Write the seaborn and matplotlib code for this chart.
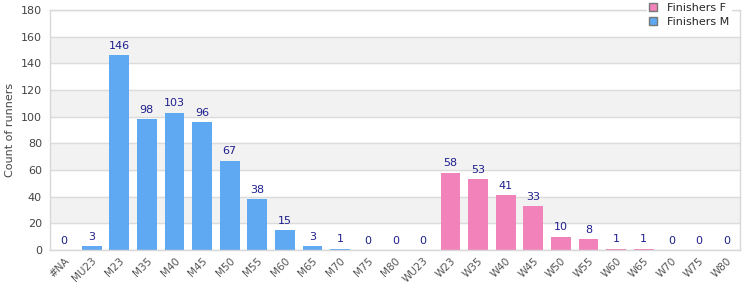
import numpy as np
import pandas as pd
import seaborn as sns
import matplotlib.pyplot as plt
from matplotlib.patches import Patch

# ---------------- DATA ----------------
categories = ["#NA", "MU23", "M23", "M35", "M40", "M45", "M50", "M55", "M60", "M65",
              "M70", "M75", "M80", "WU23", "W23", "W35", "W40", "W45", "W50", "W55",
              "W60", "W65", "W70", "W75", "W80"]
male_cats = categories[:13]
male_vals = [0, 3, 146, 98, 103, 96, 67, 38, 15, 3, 1, 0, 0]
female_cats = categories[13:]
female_vals = [0, 58, 53, 41, 33, 10, 8, 1, 1, 0, 0, 0]

COL_M = "#5fa8f2"
COL_F = "#f282ba"
LABEL_COL = "#1f1f8f"

df = pd.DataFrame({
    "cat": male_cats + female_cats,
    "count": male_vals + female_vals,
    "series": ["Finishers M"] * len(male_cats) + ["Finishers F"] * len(female_cats),
})

# ---------------- PLOT ----------------
sns.set_style("white")
plt.rcParams["font.family"] = ["DejaVu Sans"]

fig = plt.figure(figsize=(7.5, 3), dpi=100)
ax = fig.add_axes([0.067, 0.167, 0.92, 0.8])

# alternating background bands
for lo in range(20, 180, 40):
    ax.axhspan(lo, lo + 20, color="#f2f2f2", zorder=0)
ax.yaxis.grid(True, color="#dcdcdc", linewidth=1, zorder=1)
ax.set_axisbelow(True)

sns.barplot(data=df, x="cat", y="count", hue="series", order=categories,
            palette={"Finishers M": COL_M, "Finishers F": COL_F},
            dodge=False, width=0.72, saturation=1, linewidth=0,
            legend=False, ax=ax, zorder=2)

for cont in ax.containers:
    ax.bar_label(cont, padding=3, color=LABEL_COL, fontsize=8)

ax.set_ylim(0, 180)
ax.set_yticks(range(0, 181, 20))
ax.set_xlim(-0.5, len(categories) - 0.5)
ax.set_xlabel("")
ax.set_ylabel("Count of runners", fontsize=8, color="#444444")
ax.tick_params(axis="y", labelsize=8, colors="#444444", length=0, pad=6)
ax.tick_params(axis="x", labelsize=7.5, colors="#555555", length=0, pad=4)
plt.setp(ax.get_xticklabels(), rotation=45, ha="right", rotation_mode="anchor")

for s in ax.spines.values():
    s.set_color("#d8d8d8")
    s.set_linewidth(1)

handles = [Patch(facecolor=COL_F, edgecolor="#777777", label="Finishers F"),
           Patch(facecolor=COL_M, edgecolor="#777777", label="Finishers M")]
leg = ax.legend(handles=handles, loc="upper right", bbox_to_anchor=(0.995, 1.06),
                frameon=True, fontsize=8, handlelength=0.7, handleheight=0.7,
                borderpad=0.2, labelspacing=0.3, handletextpad=0.9)
leg.get_frame().set_facecolor("white")
leg.get_frame().set_edgecolor("white")
leg.get_frame().set_alpha(1)
leg.set_zorder(5)

plt.savefig("out.png", dpi=100)
